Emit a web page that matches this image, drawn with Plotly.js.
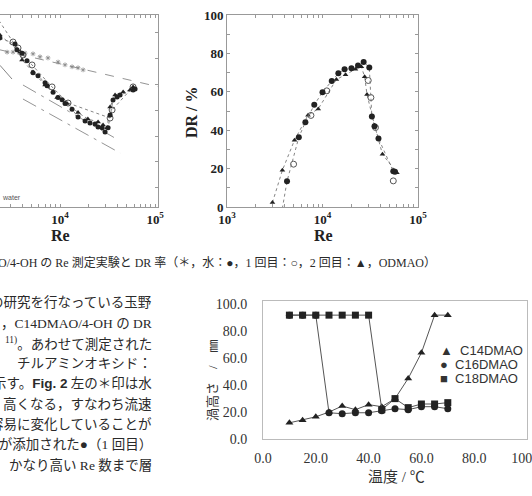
<!DOCTYPE html>
<html>
<head>
<meta charset="utf-8">
<script src="https://cdn.plot.ly/plotly-3.0.1.min.js"></script>
<style>html,body{margin:0;padding:0;background:#fff;}#chart{width:532px;height:496px;}</style>
</head>
<body>
<div id="chart"></div>
<script>
// ---------- Left chart: friction factor vs Re (partially visible) ----------
const leftWaterRe = [2770, 3200, 3790, 4280, 5190, 6150, 7460, 9530, 11270, 13370, 15450, 17460];
const leftWaterF  = [0.0111, 0.0111, 0.0111, 0.0108, 0.0106, 0.0098, 0.0095, 0.0085, 0.0079, 0.0075, 0.0073, 0.0069];
const leftWaterLineRe = [2330, 107000];
const leftWaterLineF  = [0.0118, 0.0044];
const leftLamLineRe = [2330, 3120];
const leftLamLineF  = [0.0078, 0.0054];
const leftMdrARe = [4070, 40740];
const leftMdrAF  = [0.0046, 0.00106];
const leftMdrBRe = [4070, 42760];
const leftMdrBF  = [0.00316, 0.000745];
const leftRun1Re = [2330, 3360, 3520, 3980, 4490, 5190, 5860, 6950, 7300, 8440, 9530, 10500, 11270, 13370, 15450, 18320, 20650, 23330, 25100, 27700, 29750, 31990, 33560, 36060, 39810, 42760, 58610, 61520];
const leftRun1F  = [0.0162, 0.0138, 0.0118, 0.0108, 0.0088, 0.0064, 0.0059, 0.0049, 0.0045, 0.0038, 0.0033, 0.0031, 0.0028, 0.0024, 0.00195, 0.00175, 0.00166, 0.00162, 0.00149, 0.00146, 0.00131, 0.00146, 0.00206, 0.00308, 0.00334, 0.00352, 0.00403, 0.00414];
const leftRun2Re = [2100, 3200, 3610, 4070, 5070, 8230, 12130, 33560, 35240, 58610];
const leftRun2F  = [0.0296, 0.01455, 0.01239, 0.01028, 0.00787, 0.00437, 0.00284, 0.0019, 0.00236, 0.00437];
const leftOdRe = [2330, 3790, 3980, 5190, 6950, 9310, 11830, 15450, 19610, 25100, 28310, 31200, 33560, 37890, 46080, 54510, 58610];
const leftOdF  = [0.0175, 0.0111, 0.009, 0.0065, 0.0046, 0.0033, 0.0028, 0.0022, 0.00185, 0.00171, 0.00158, 0.00146, 0.00255, 0.00352, 0.00382, 0.00403, 0.00437];

// ---------- Right chart: DR / % vs Re ----------
const drRun1Re = [3530, 4250, 5650, 6620, 8200, 10000, 12500, 14660, 17030, 20100, 23550, 26970, 30900, 32890, 35050, 38560, 55110, 57400];
const drRun1DR = [-10, 13.4, 36.3, 44.2, 53.2, 59.8, 65.6, 69.6, 71.7, 72.3, 73.7, 75.5, 72.7, 47.1, 42.1, 35.7, 18.6, 18.3];
const drRun2Re = [4980, 7570, 11090, 30130, 32120, 35890, 55110];
const drRun2DR = [22.3, 47.7, 60.5, 65.9, 57.0, 41.4, 13.6];
const drOdRe = [2990, 3800, 5090, 7050, 9020, 13970, 17420, 22130, 25530, 27620, 29230, 35050, 42460, 60100];
const drOdDR = [2.3, 19.1, 34.8, 47.8, 51.1, 66.4, 68.9, 71.8, 73.0, 67.8, 58.6, 42.6, 27.5, 17.9];

// ---------- Bottom chart: vortex height vs temperature ----------
const temps = [10, 15, 20, 25, 30, 35, 40, 45, 50, 55, 60, 65, 70];
const c14 = [12, 14, 16.5, 20, 24.5, 21.8, 25.5, 24, 30, 45, 64, 92, 92];
const c16 = [92, 92, 92, 19.5, 18.8, 19.5, 19.5, 21, 22.5, 21.8, 24, 24, 22.5];
const c18 = [92, 92, 92, 92, 92, 92, 92, 21.8, 30, 23.3, 26, 26, 27];
const seriesNames = ['C14DMAO', 'C16DMAO', 'C18DMAO'];
const tempTicks = [0, 20, 40, 60, 80, 100];
const heightTicks = [0, 20, 40, 60, 80, 100];

// tick labels for log axes
const logTickVals = [];
const logTickText = [];
[1000, 10000].forEach(function (d) {
  for (let k = 1; k <= 9; k++) {
    logTickVals.push(d * k);
    logTickText.push(k === 1 ? '10<sup>' + Math.round(Math.log10(d)) + '</sup>' : '');
  }
});
logTickVals.push(100000); logTickText.push('10<sup>5</sup>');
const drTickVals = [0,10,20,30,40,50,60,70,80,90,100];
const drTickText = drTickVals.map(v => (v % 20 === 0 ? String(v) : ''));

const W = 532, H = 496;
const px = x => x / W;
const py = y => 1 - y / H;
const SERIF = 'Liberation Serif, Noto Sans CJK JP, serif';
const SANS = 'Liberation Sans, Arial, sans-serif';
const boldTick = {family: 'Liberation Serif, serif', size: 13, color: '#222', weight: 700};

const dotLine = {color: '#777', width: 0.9, dash: 'dot'};
const traces = [
  // left chart
  {x: leftWaterLineRe, y: leftWaterLineF, mode: 'lines', line: {color: '#888', width: 0.9, dash: 'dash'}, xaxis: 'x', yaxis: 'y', showlegend: false},
  {x: leftLamLineRe, y: leftLamLineF, mode: 'lines', line: {color: '#777', width: 0.9}, xaxis: 'x', yaxis: 'y', showlegend: false},
  {x: leftMdrARe, y: leftMdrAF, mode: 'lines', line: {color: '#888', width: 0.9, dash: 'longdashdot'}, xaxis: 'x', yaxis: 'y', showlegend: false},
  {x: leftMdrBRe, y: leftMdrBF, mode: 'lines', line: {color: '#888', width: 0.9, dash: 'longdashdot'}, xaxis: 'x', yaxis: 'y', showlegend: false},
  {x: leftWaterRe, y: leftWaterF, mode: 'markers', marker: {symbol: 'asterisk-open', size: 4, color: '#888', line: {color: '#888', width: 0.8}}, xaxis: 'x', yaxis: 'y', showlegend: false},
  {x: leftRun2Re, y: leftRun2F, mode: 'lines+markers', line: dotLine, marker: {symbol: 'circle-open', size: 6, color: '#555', line: {width: 1}}, xaxis: 'x', yaxis: 'y', showlegend: false},
  {x: leftOdRe, y: leftOdF, mode: 'lines+markers', line: dotLine, marker: {symbol: 'triangle-up', size: 5, color: '#222'}, xaxis: 'x', yaxis: 'y', showlegend: false},
  {x: leftRun1Re, y: leftRun1F, mode: 'lines+markers', line: dotLine, marker: {symbol: 'circle', size: 5, color: '#222'}, xaxis: 'x', yaxis: 'y', showlegend: false},
  // DR chart
  {x: drOdRe, y: drOdDR, mode: 'lines+markers', line: dotLine, marker: {symbol: 'triangle-up', size: 5, color: '#222'}, xaxis: 'x2', yaxis: 'y2', showlegend: false},
  {x: drRun2Re, y: drRun2DR, mode: 'markers', marker: {symbol: 'circle-open', size: 6, color: '#555', line: {width: 1}}, xaxis: 'x2', yaxis: 'y2', showlegend: false},
  {x: drRun1Re, y: drRun1DR, mode: 'lines+markers', line: dotLine, marker: {symbol: 'circle', size: 6, color: '#222'}, xaxis: 'x2', yaxis: 'y2', showlegend: false},
  // bottom chart
  {x: temps, y: c14, name: seriesNames[0], mode: 'lines+markers', line: {color: '#555', width: 1}, marker: {symbol: 'triangle-up', size: 7, color: '#222'}, xaxis: 'x3', yaxis: 'y3', showlegend: false},
  {x: temps, y: c16, name: seriesNames[1], mode: 'lines+markers', line: {color: '#555', width: 1}, marker: {symbol: 'circle', size: 7, color: '#222'}, xaxis: 'x3', yaxis: 'y3', showlegend: false},
  {x: temps, y: c18, name: seriesNames[2], mode: 'lines+markers', line: {color: '#555', width: 1}, marker: {symbol: 'square', size: 7, color: '#222'}, xaxis: 'x3', yaxis: 'y3', showlegend: false}
];

const bodyLines = [
  [302, 'の研究を行なっている玉野'],
  [323, '，C14DMAO/4-OH の DR'],
  [343, '<sup>11)</sup>。あわせて測定された'],
  [363, 'チルアミンオキシド：'],
  [383, '示す。<span style="font-family:Liberation Sans;font-weight:bold">Fig. 2</span> 左の＊印は水'],
  [404, '高くなる，すなわち流速'],
  [424, '容易に変化していることが'],
  [444, 'I が添加された●（1 回目）'],
  [465, 'かなり高い Re 数まで層']
];

const annotations = [];
bodyLines.forEach(function (l) {
  annotations.push({xref: 'paper', yref: 'paper', x: px(154), y: py(l[0]), xanchor: 'right', yanchor: 'middle', showarrow: false,
    text: l[1], font: {family: SERIF, size: 13.5, color: '#2a2a2a'}});
});
// caption of top figure
annotations.push({xref: 'paper', yref: 'paper', x: px(438), y: py(262), xanchor: 'right', yanchor: 'middle', showarrow: false,
  text: 'O/4-OH の Re 測定実験と DR 率（＊，水：●，1 回目：○，2 回目：▲，ODMAO）', font: {family: SERIF, size: 12, color: '#2a2a2a'}});
// left chart small label
annotations.push({xref: 'paper', yref: 'paper', x: px(0), y: py(197), xanchor: 'left', yanchor: 'middle', showarrow: false,
  text: 'water', font: {family: SANS, size: 7, color: '#555'}});
// axis titles
annotations.push({xref: 'paper', yref: 'paper', x: px(60), y: py(235), xanchor: 'center', yanchor: 'middle', showarrow: false,
  text: 'Re', font: {family: 'Liberation Serif, serif', size: 16, color: '#222', weight: 700}});
annotations.push({xref: 'paper', yref: 'paper', x: px(323), y: py(235), xanchor: 'center', yanchor: 'middle', showarrow: false,
  text: 'Re', font: {family: 'Liberation Serif, serif', size: 16, color: '#222', weight: 700}});
annotations.push({xref: 'paper', yref: 'paper', x: px(191), y: py(112), xanchor: 'center', yanchor: 'middle', showarrow: false, textangle: -90,
  text: 'DR / %', font: {family: 'Liberation Serif, serif', size: 16, color: '#222', weight: 700}});
annotations.push({xref: 'paper', yref: 'paper', x: px(212), y: py(380), xanchor: 'center', yanchor: 'middle', showarrow: false, textangle: -90,
  text: '渦高さ　/　㎜', font: {family: SERIF, size: 13, color: '#333'}});
annotations.push({xref: 'paper', yref: 'paper', x: px(396), y: py(477), xanchor: 'center', yanchor: 'middle', showarrow: false,
  text: '温度 / ℃', font: {family: SERIF, size: 15, color: '#333'}});
// legend of bottom chart
const legendSymbols = ['▲', '●', '■'];
seriesNames.forEach(function (n, i) {
  annotations.push({xref: 'paper', yref: 'paper', x: px(438), y: py(350 + i * 14.3), xanchor: 'left', yanchor: 'middle', showarrow: false,
    text: legendSymbols[i] + '  ' + n, font: {family: SANS, size: 13, color: '#333'}});
});

const layout = {
  width: W, height: H,
  margin: {l: 0, r: 0, t: 0, b: 0},
  paper_bgcolor: '#fff', plot_bgcolor: '#fff',
  showlegend: false,
  xaxis: {type: 'log', range: [3.368, 5.03], domain: [0, px(158)], anchor: 'y',
    showline: true, linecolor: '#999', linewidth: 1, mirror: 'ticks', ticks: 'inside', ticklen: 3, tickcolor: '#999',
    tickmode: 'array', tickvals: logTickVals, ticktext: logTickText, tickfont: boldTick, showgrid: false, zeroline: false},
  yaxis: {type: 'log', range: [-3.756, -1.523], domain: [py(207), py(15)], anchor: 'x', side: 'right',
    showline: true, linecolor: '#999', linewidth: 1, ticks: 'inside', ticklen: 3, tickcolor: '#999',
    dtick: 0.3, tick0: -1.732, showticklabels: false, showgrid: false, zeroline: false},
  xaxis2: {type: 'log', range: [3, 5], domain: [px(227), px(418)], anchor: 'y2',
    showline: true, linecolor: '#999', linewidth: 1, mirror: 'ticks', ticks: 'inside', ticklen: 3, tickcolor: '#999',
    tickmode: 'array', tickvals: logTickVals, ticktext: logTickText, tickfont: boldTick, showgrid: false, zeroline: false},
  yaxis2: {range: [0, 100], domain: [py(207), py(15)], anchor: 'x2',
    showline: true, linecolor: '#999', linewidth: 1, mirror: 'ticks', ticks: 'inside', ticklen: 3, tickcolor: '#999',
    tickmode: 'array', tickvals: drTickVals, ticktext: drTickText, tickfont: boldTick, showgrid: false, zeroline: false},
  xaxis3: {range: [0, 100], domain: [px(263), px(527)], anchor: 'y3',
    showline: true, linecolor: '#bbb', linewidth: 1, mirror: true, ticks: '',
    tickmode: 'array', tickvals: tempTicks, tickformat: '.1f', ticklabelstandoff: 6, ticklabeloverflow: 'allow',
    tickfont: {family: 'Liberation Serif, serif', size: 14, color: '#333'}, showgrid: false, zeroline: false},
  yaxis3: {range: [0, 102.5], domain: [py(439), py(301)], anchor: 'x3',
    showline: true, linecolor: '#bbb', linewidth: 1, mirror: true, ticks: '',
    tickmode: 'array', tickvals: heightTicks, tickformat: '.1f', ticklabelstandoff: 12, ticklabeloverflow: 'allow',
    tickfont: {family: 'Liberation Serif, serif', size: 14, color: '#333'}, showgrid: false, zeroline: false},
  annotations: annotations
};

Plotly.newPlot('chart', traces, layout, {displayModeBar: false, staticPlot: true});
</script>
</body>
</html>
